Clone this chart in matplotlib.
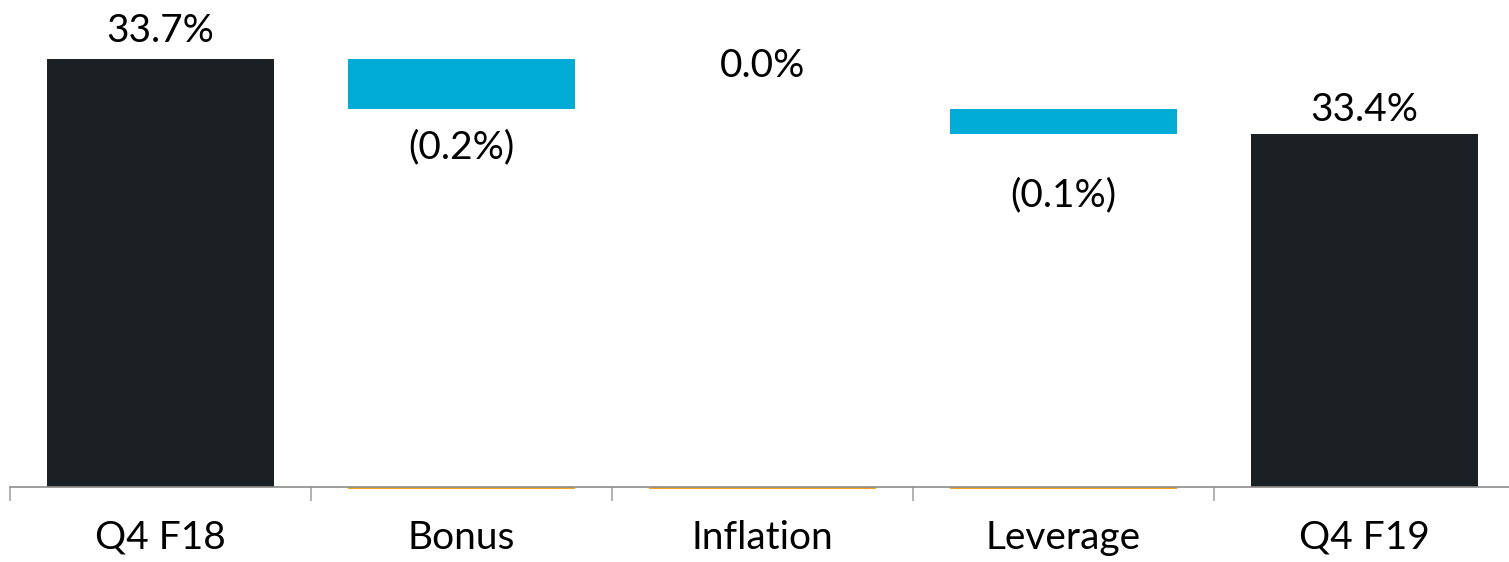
import matplotlib
matplotlib.use("Agg")
import matplotlib.pyplot as plt
import numpy as np

# waterfall data (percent)
categories = ["Q4 F18", "Bonus", "Inflation", "Leverage", "Q4 F19"]
changes = [33.7, -0.2, 0.0, -0.1, 33.4]
is_total = [True, False, False, False, True]
labels = ["33.7%", "(0.2%)", "0.0%", "(0.1%)", "33.4%"]

dark = "#1A2024"
blue = "#00ABD6"
orange = "#F5A51C"

plt.rcParams['font.family'] = ['Lato', 'DejaVu Sans']

fig = plt.figure(figsize=(15.09, 5.62), dpi=100)
ax = fig.add_axes([10 / 1509, 75.5 / 562, 1505 / 1509, 486.5 / 562])

ymin = 32.0
x = np.arange(len(categories))
width = 0.755

# compute bar bottoms / tops
bottoms, heights = [], []
level = 0.0
for c, tot in zip(changes, is_total):
    if tot:
        level = c
        bottoms.append(ymin)
        heights.append(c - ymin)
    else:
        new = level + c
        bottoms.append(min(level, new))
        heights.append(abs(c))
        level = new

colors = [dark if t else blue for t in is_total]
ax.bar(x, heights, bottom=bottoms, width=width, color=colors, linewidth=0, zorder=2)

# thin orange base marks under the change bars
steps = [i for i, t in enumerate(is_total) if not t]
ax.bar(steps, [-0.009] * len(steps), bottom=ymin, width=width, color=orange,
       linewidth=0, clip_on=False, zorder=1)

# data labels (offsets in points, baseline aligned)
offsets = [12, -35, 23, -52, 10]
for i, (lab, tot) in enumerate(zip(labels, is_total)):
    top = bottoms[i] + heights[i]
    if tot or changes[i] >= 0:
        ref = top
    else:
        ref = bottoms[i]
    ax.annotate(lab, (x[i], ref), xytext=(0, offsets[i]), textcoords="offset points",
                ha="center", va="baseline", fontsize=28, color="black")

ax.set_xlim(-0.5, len(categories) - 0.5)
ax.set_ylim(ymin, ymin + 486.5 / 251.5)

for s in ["top", "right", "left"]:
    ax.spines[s].set_visible(False)
ax.spines["bottom"].set_color("#8C8C8C")
ax.spines["bottom"].set_linewidth(1.2)
ax.spines["bottom"].set_zorder(3)

ax.set_yticks([])
ax.set_xticks(x)
ax.set_xticklabels(categories, fontsize=28)
ax.tick_params(axis="x", which="major", length=0, pad=24)
ax.set_xticks(np.arange(len(categories) + 1) - 0.5, minor=True)
ax.tick_params(axis="x", which="minor", length=10, width=1.2, color="#A6A6A6")

fig.savefig("out.png", dpi=100)
